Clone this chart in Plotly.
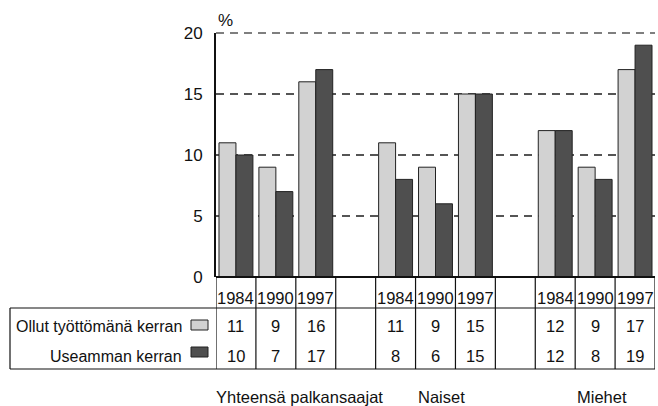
import plotly.graph_objects as go

groups = ["Yhteensä palkansaajat", "Naiset", "Miehet"]
years = ["1984", "1990", "1997"]
row_labels = ["Ollut työttömänä kerran", "Useamman kerran"]
once = [11, 9, 16, 11, 9, 15, 12, 9, 17]
many = [10, 7, 17, 8, 6, 15, 12, 8, 19]
y_ticks = [0, 5, 10, 15, 20]

LIGHT = "#d2d2d2"
DARK = "#4f4f4f"
FONT = "Liberation Sans, Arial, sans-serif"

W, H = 658, 406
L, R, T, B = 216, 3, 33, 129
plot_h = H - T - B


def py(pix):
    """pixel row -> paper y"""
    return (H - B - pix) / plot_h


def px(pix):
    return (pix - L) / (W - L - R)


# column positions: 3 years per group, one empty column between groups
xpos = [g * 4 + i for g in range(len(groups)) for i in range(len(years))]
ncols = 11

fig = go.Figure()
fig.add_bar(x=xpos, y=once, name=row_labels[0],
            marker=dict(color=LIGHT, line=dict(color="#222", width=1)))
fig.add_bar(x=xpos, y=many, name=row_labels[1],
            marker=dict(color=DARK, line=dict(color="#222", width=1)))

fig.update_layout(
    width=W, height=H, margin=dict(l=L, r=R, t=T, b=B),
    paper_bgcolor="white", plot_bgcolor="white",
    barmode="group", bargap=0.15, bargroupgap=0,
    showlegend=False,
    font=dict(family=FONT, size=16.5, color="#111"),
)
fig.update_xaxes(range=[-0.5, ncols - 0.5], showticklabels=False, showgrid=False,
                 zeroline=False, showline=False)
fig.update_yaxes(range=[0, y_ticks[-1]], tickvals=y_ticks, showgrid=True, gridcolor="#555",
                 griddash="8px,6px", gridwidth=1.5, zeroline=False,
                 showline=True, linecolor="#111", linewidth=2,
                 ticks="", ticklabelstandoff=8, tickfont=dict(size=17))

shapes = []
# top gridline (plotly skips the one on the range edge); range top == paper 1
shapes.append(dict(type="line", xref="paper", yref="paper", x0=0, x1=1, y0=1, y1=1,
                   layer="below", line=dict(color="#555", width=1.5, dash="8px,6px")))
# baseline
shapes.append(dict(type="line", xref="paper", yref="paper", x0=0, x1=1, y0=0, y1=0,
                   line=dict(color="#111", width=2)))
# table horizontal lines
for yy in (308, 369):
    shapes.append(dict(type="line", xref="paper", yref="paper", x0=px(10), x1=1,
                       y0=py(yy), y1=py(yy), line=dict(color="#111", width=1.2)))
# table vertical lines
for c in range(ncols + 1):
    shapes.append(dict(type="line", xref="x", yref="paper", x0=c - 0.5, x1=c - 0.5,
                       y0=0, y1=py(369), line=dict(color="#111", width=1.2)))
shapes.append(dict(type="line", xref="paper", yref="paper", x0=px(10), x1=px(10),
                   y0=py(308), y1=py(369), line=dict(color="#111", width=1.2)))
# legend swatches
for yy, col in ((325, LIGHT), (352, DARK)):
    shapes.append(dict(type="rect", xref="paper", yref="paper", x0=px(191), x1=px(208),
                       y0=py(yy - 5), y1=py(yy + 5), fillcolor=col,
                       line=dict(color="#222", width=1)))
fig.update_layout(shapes=shapes)


def note(text, x, y, xref="paper", xanchor="center", size=16.5):
    return dict(text=text, xref=xref, yref="paper", x=x, y=y, xanchor=xanchor,
                yanchor="middle", showarrow=False, font=dict(size=size))


ann = [note("%", px(216), py(20), xanchor="left", size=17)]
for i, x in enumerate(xpos):
    ann.append(note(years[i % 3], x, py(298), xref="x"))
    ann.append(note(str(once[i]), x, py(326), xref="x"))
    ann.append(note(str(many[i]), x, py(356), xref="x"))
for lab, yy in zip(row_labels, (326, 356)):
    ann.append(note(lab, px(184), py(yy), xanchor="right", size=16))
for lab, cx in zip(groups, (299, 441, 602)):
    ann.append(note(lab, px(cx), py(397)))
fig.update_layout(annotations=ann)

fig.write_html("out.html", config={"displayModeBar": False},
               post_script="document.body.style.margin='0';")
